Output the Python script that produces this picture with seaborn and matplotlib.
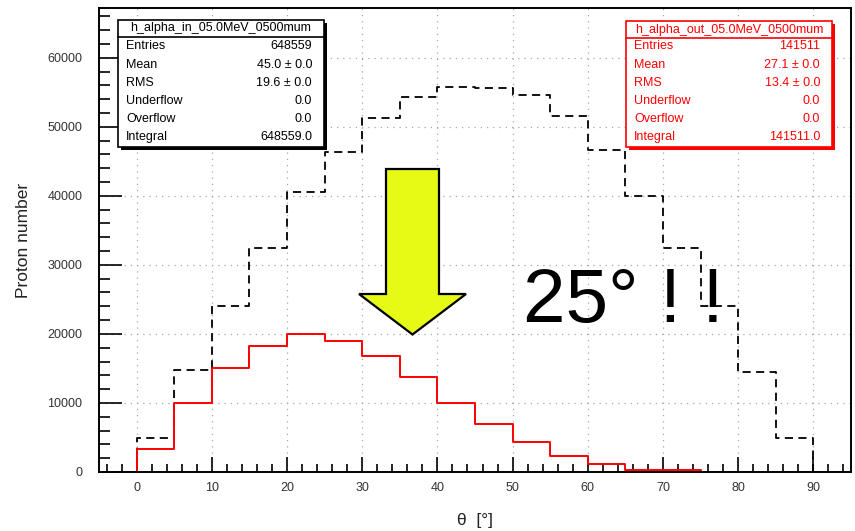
import numpy as np
import pandas as pd
import matplotlib
matplotlib.use("Agg")
import matplotlib.pyplot as plt
import matplotlib.transforms as mtransforms
from matplotlib.patches import Rectangle, Polygon
from matplotlib.lines import Line2D
from matplotlib.ticker import MultipleLocator
import seaborn as sns

# ---- data: angular distribution, 5 degree bins from 0 to 90 ----
bin_edges = [0, 5, 10, 15, 20, 25, 30, 35, 40, 45, 50, 55, 60, 65, 70, 75, 80, 85, 90]
counts_in = [4859, 14800, 24000, 32400, 40500, 46300, 51300, 54300, 55800,
             55600, 54600, 51500, 46700, 40000, 32400, 24100, 14500, 4900]
counts_out = [3400, 10000, 15000, 18200, 20000, 19000, 16800, 13700, 10000,
              7000, 4300, 2250, 1210, 350, 301, 0, 0, 0]

x_ticks = [0, 10, 20, 30, 40, 50, 60, 70, 80, 90]
y_ticks = [0, 10000, 20000, 30000, 40000, 50000, 60000]

title_in = "h_alpha_in_05.0MeV_0500mum"
title_out = "h_alpha_out_05.0MeV_0500mum"
stat_names = ["Entries", "Mean", "RMS", "Underflow", "Overflow", "Integral"]
stat_in = ["648559", "45.0 \u00b1 0.0", "19.6 \u00b1 0.0", "0.0", "0.0", "648559.0"]
stat_out = ["141511", "27.1 \u00b1 0.0", "13.4 \u00b1 0.0", "0.0", "0.0", "141511.0"]

# ---- style ----
sns.set_theme(style="white")
plt.rcParams["font.family"] = ["Liberation Sans", "DejaVu Sans"]

W, H = 855, 531
fig = plt.figure(figsize=(W / 100, H / 100), dpi=100)
fig.patch.set_facecolor("white")
ax = fig.add_axes([99 / W, 59 / H, 752 / W, 464 / H])

# histogram tables with empty under/overflow bins so the outline returns to zero
centers = [(a + b) / 2 for a, b in zip(bin_edges[:-1], bin_edges[1:])]
edges_full = [bin_edges[0] - 5] + bin_edges + [bin_edges[-1] + 5]
df_in = pd.DataFrame({"theta": centers, "count": counts_in})
df_out = pd.DataFrame({"theta": centers, "count": counts_out})

sns.histplot(data=df_in, x="theta", weights="count", bins=edges_full,
             element="step", fill=False, color="black", linewidth=1.3,
             linestyle=(0, (4.5, 3.0)), ax=ax)
sns.histplot(data=df_out, x="theta", weights="count", bins=edges_full,
             element="step", fill=False, color="#ff0000", linewidth=1.4, ax=ax)

ax.set_xlim(-5, 95)
ax.set_ylim(0, 67200)
ax.set_xticks(x_ticks)
ax.set_yticks(y_ticks)
ax.set_xticklabels([str(v) for v in x_ticks])
ax.set_yticklabels([str(v) for v in y_ticks])
ax.xaxis.set_minor_locator(MultipleLocator(2))
ax.yaxis.set_minor_locator(MultipleLocator(2000))

ax.grid(True, which="major", color="#a8a8a8", linestyle=(0, (1, 4)), linewidth=0.9)
ax.set_axisbelow(True)

tick_col = "#333333"
ax.tick_params(axis="x", which="major", direction="in", length=10.8, width=1.2,
               pad=7, labelsize=9, labelcolor=tick_col, color="black",
               bottom=True, top=False)
ax.tick_params(axis="x", which="minor", direction="in", length=5.8, width=1.2,
               color="black", bottom=True, top=False)
ax.tick_params(axis="y", which="major", direction="in", length=16.5, width=1.2,
               pad=12, labelsize=9, labelcolor=tick_col, color="black",
               left=True, right=False)
ax.tick_params(axis="y", which="minor", direction="in", length=8, width=1.2,
               color="black", left=True, right=False)
for sp in ax.spines.values():
    sp.set_visible(True)
    sp.set_color("black")
    sp.set_linewidth(1.4)

ax.set_xlabel("\u03b8  [\u00b0]", fontsize=12.5, color="#222222", labelpad=14)
ax.set_ylabel("Proton number", fontsize=12.5, color="#222222", labelpad=12)

# ---- overlay drawn in figure pixel coordinates (y pointing down) ----
px = mtransforms.Affine2D().scale(1 / W, -1 / H).translate(0, 1) + fig.transFigure


def stat_box(x0, x1, y0, y1, sep, color, title, values):
    fig.add_artist(Rectangle((x0 + 3, y0 + 3), x1 - x0, y1 - y0, transform=px,
                             facecolor=color, edgecolor="none", zorder=5))
    fig.add_artist(Rectangle((x0, y0), x1 - x0, y1 - y0, transform=px,
                             facecolor="white", edgecolor=color, linewidth=1.2,
                             zorder=6))
    fig.add_artist(Line2D([x0, x1], [sep, sep], transform=px, color=color,
                          linewidth=1.2, zorder=7))
    fig.text((x0 + x1) / 2, (y0 + sep) / 2, title, transform=px, ha="center",
             va="center", fontsize=9, color=color, zorder=8)
    rows_y = [46, 65, 83, 101, 119, 137]
    for name, val, yy in zip(stat_names, values, rows_y):
        fig.text(x0 + 8, yy, name, transform=px, ha="left", va="center",
                 fontsize=9, color=color, zorder=8)
        fig.text(x1 - 12, yy, val, transform=px, ha="right", va="center",
                 fontsize=9, color=color, zorder=8)


stat_box(118, 324, 20, 147, 37, "black", title_in, stat_in)
stat_box(626, 832, 21, 147, 38, "#ff0000", title_out, stat_out)

# big downward arrow
arrow_pts = [(386, 169), (439, 169), (439, 294), (466, 294), (412.5, 334.5),
             (359, 294), (386, 294)]
fig.add_artist(Polygon(arrow_pts, closed=True, transform=px, facecolor="#e6fa16",
                       edgecolor="black", linewidth=1.6, joinstyle="miter",
                       zorder=5))

fig.text(523, 322, "25\u00b0 ! !", transform=px, ha="left", va="baseline",
         fontsize=55, color="black", zorder=8)

fig.savefig("out.png", dpi=100)
